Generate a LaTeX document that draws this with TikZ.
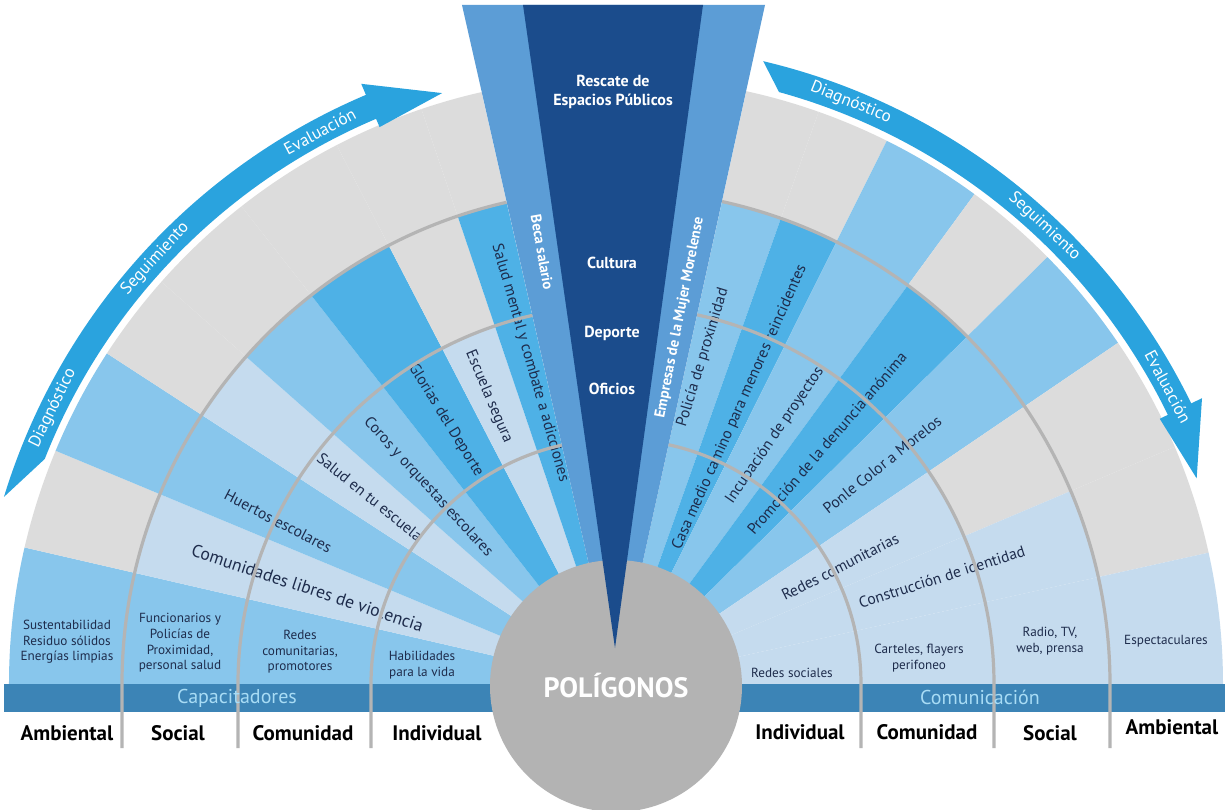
\documentclass[tikz,border=0pt]{standalone}
\usepackage{fontspec}
\setmainfont{PT Sans}

\definecolor{fangray}{HTML}{DCDCDC}
\definecolor{fanpale}{HTML}{C5DBEE}
\definecolor{fanlight}{HTML}{88C6EC}
\definecolor{fanmid}{HTML}{4EB1E6}
\definecolor{fansteel}{HTML}{5C9DD6}
\definecolor{fandark}{HTML}{1B4C8C}
\definecolor{bandblue}{HTML}{3C84B6}
\definecolor{arrowblue}{HTML}{2AA3DE}
\definecolor{ringgray}{HTML}{B4B4B4}
\definecolor{circlegray}{HTML}{B3B3B3}
\definecolor{inktext}{HTML}{1E2C4C}
\definecolor{bandlabel}{HTML}{A8DCF5}

\newcommand{\fansector}[6]{%
  \fill[#3] (0,0) -- (#1:245) arc[start angle=#1, end angle=#2, radius=245] -- cycle;
  \fill[#4] (#1:245) arc[start angle=#1, end angle=#2, radius=245] -- (#2:378) arc[start angle=#2, end angle=#1, radius=378] -- cycle;
  \fill[#5] (#1:378) arc[start angle=#1, end angle=#2, radius=378] -- (#2:494) arc[start angle=#2, end angle=#1, radius=494] -- cycle;
  \fill[#6] (#1:494) arc[start angle=#1, end angle=#2, radius=494] -- (#2:607) arc[start angle=#2, end angle=#1, radius=607] -- cycle;
}

\begin{document}
\begin{tikzpicture}[x=0.5pt, y=0.5pt,
    fantext/.style={text=inktext, font=\fontsize{7.8}{9}\selectfont},
    celltext/.style={text=inktext, font=\fontsize{6.6}{7.8}\selectfont, align=center},
    striptext/.style={text=white, font=\bfseries\fontsize{7.4}{9}\selectfont},
    wedgetext/.style={text=white, font=\bfseries\fontsize{8}{9.5}\selectfont, align=center},
    cycletext/.style={text=white, font=\fontsize{8.5}{10}\selectfont},
    bandtext/.style={text=bandlabel, font=\fontsize{10}{12}\selectfont},
    levellabel/.style={text=black, font=\bfseries\fontsize{10.5}{12}\selectfont},
    ringline/.style={draw=ringgray, line width=1.6pt}]
		\useasboundingbox (-616,-125) rectangle (609,684);
		\fill[white] (-616,-125) rectangle (609,684);

		\fansector{167}{180}{fanlight}{fanlight}{fanlight}{fanlight}
		\fansector{157.4}{167}{fanpale}{fanpale}{fanpale}{fangray}
		\fansector{147}{157.4}{fanlight}{fanlight}{fanlight}{fanlight}
		\fansector{138.5}{147}{fanpale}{fanpale}{fanpale}{fangray}
		\fansector{128.1}{138.5}{fanlight}{fanlight}{fanlight}{fangray}
		\fansector{117.4}{128.1}{fanmid}{fanmid}{fanmid}{fangray}
		\fansector{108.7}{117.4}{fanpale}{fanpale}{fangray}{fangray}
		\fansector{102.8}{108.7}{fanmid}{fanmid}{fanmid}{fangray}
		\fansector{70.5}{77.6}{fanlight}{fanlight}{fanlight}{fangray}
		\fansector{63.5}{70.5}{fanmid}{fanmid}{fanmid}{fangray}
		\fansector{53.8}{63.5}{fanlight}{fanlight}{fanlight}{fanlight}
		\fansector{44.7}{53.8}{fanmid}{fanmid}{fanmid}{fangray}
		\fansector{34.2}{44.7}{fanlight}{fanlight}{fanlight}{fanlight}
		\fansector{23}{34.2}{fanpale}{fanpale}{fangray}{fangray}
		\fansector{12.5}{23}{fanpale}{fanpale}{fanpale}{fangray}
		\fansector{0}{12.5}{fanpale}{fanpale}{fanpale}{fanpale}

		\fill[fansteel] (0,0) -- (-154,679) -- (149,679) -- cycle;
		\fill[bandblue] (-612,-28) rectangle (609,0);

		\node[fantext, rotate=-27.5] (huertos) at (154.3:375) {Huertos escolares};
		\node[fantext, rotate=-18.3, font=\fontsize{8.8}{10}\selectfont] (comunidades) at (162.7:323) {Comunidades libres de violencia};
		\node[fantext, rotate=-39] (saludescuela) at (142.8:309) {Salud en tu escuela};
		\node[fantext, rotate=-47.5] (coros) at (133.7:272) {Coros y orquestas escolares};
		\node[fantext, rotate=-58.4] (glorias) at (122.8:314) {Glorias del Deporte};
		\node[fantext, rotate=-67] (escuela) at (113.9:314) {Escuela segura};
		\node[fantext, rotate=-74] (saludmental) at (105:332) {Salud mental y combate a adicciones};
		\node[fantext, rotate=73] (policia) at (75.1:338) {Policía de proximidad};
		\node[fantext, rotate=66] (casa) at (65.9:303) {Casa medio camino para menores reincidentes};
		\node[fantext, rotate=55.5] (incubacion) at (57.4:295) {Incubación de proyectos};
		\node[fantext, rotate=49.2] (promocion) at (48.8:320) {Promoción de la denuncia anónima};
		\node[fantext, rotate=38.5] (ponle) at (39.5:345) {Ponle Color a Morelos};
		\node[fantext, rotate=27] (redescom) at (27.6:253) {Redes comunitarias};
		\node[fantext, rotate=17.7] (construccion) at (18.2:343) {Construcción de identidad};

		\node[celltext] (sustentabilidad) at (-549,42) {Sustentabilidad\\Residuo sólidos\\Energías limpias};
		\node[celltext] (funcionarios) at (-436,41) {Funcionarios y\\Policías de\\Proximidad,\\personal salud};
		\node[celltext] (redesprom) at (-316,32) {Redes\\comunitarias,\\promotores};
		\node[celltext] (habilidades) at (-194,19) {Habilidades\\para la vida};
		\node[celltext] (redessoc) at (176,11) {Redes sociales};
		\node[celltext] (carteles) at (303,26) {Carteles, flayers\\perifoneo};
		\node[celltext] (radio) at (434,43) {Radio, TV,\\web, prensa};
		\node[celltext] (espect) at (550,43) {Espectaculares};

		\draw[ringline] (102.8:245) arc[start angle=102.8, end angle=180, radius=245] -- (-245,-64);
		\draw[ringline] (102.8:378) arc[start angle=102.8, end angle=180, radius=378] -- (-378,-64);
		\draw[ringline] (102.8:494) arc[start angle=102.8, end angle=180, radius=494] -- (-494,-64);
		\draw[ringline] (77.6:245) arc[start angle=77.6, end angle=0, radius=245] -- (245,-64);
		\draw[ringline] (77.6:378) arc[start angle=77.6, end angle=0, radius=378] -- (378,-64);
		\draw[ringline] (77.6:494) arc[start angle=77.6, end angle=0, radius=494] -- (494,-64);

		\node[bandtext] (capacitadores) at (-379,-14) {Capacitadores};
		\node[bandtext] (comunicacion) at (364,-13) {Comunicación};

		\node[circle, fill=circlegray, minimum size=126pt, inner sep=0pt, text=white, font=\bfseries\fontsize{14}{16}\selectfont] (poligonos) at (0,-2) {POLÍGONOS};
		\fill[fandark] (-1,36) -- (-93,679) -- (87,679) -- cycle;

		\node[wedgetext] (rescate) at (-3,592) {Rescate de\\Espacios Públicos};
		\node[wedgetext] (cultura) at (-4,421) {Cultura};
		\node[wedgetext] (deporte) at (-4,351) {Deporte};
		\node[wedgetext] (oficios) at (-4,295) {Oficios};
		\node[striptext, rotate=-80] (beca) at (99.7:438) {Beca salario};
		\node[striptext, rotate=79] (empresas) at (80.1:372) {Empresas de la Mujer Morelense};

		\node[levellabel] (ambientalizq) at (-549,-49) {Ambiental};
		\node[levellabel] (socializq) at (-438,-49) {Social};
		\node[levellabel] (comunidadizq) at (-313,-49) {Comunidad};
		\node[levellabel] (individualizq) at (-179,-49) {Individual};
		\node[levellabel] (individualder) at (184,-48) {Individual};
		\node[levellabel] (comunidadder) at (311,-48) {Comunidad};
		\node[levellabel] (socialder) at (434,-49) {Social};
		\node[levellabel] (ambientalder) at (556,-43) {Ambiental};

		\fill[arrowblue] (163:640) arc[start angle=163, end angle=113, radius=640] -- (113:652) -- (106.4:616) -- (113:605) -- (113:614) arc[start angle=113, end angle=158.5, radius=614] -- cycle;
		\fill[arrowblue] (76.7:640) arc[start angle=76.7, end angle=26, radius=640] -- (26:652) -- (19.5:616) -- (26:605) -- (26:614) arc[start angle=26, end angle=74.6, radius=614] -- cycle;

		\node[cycletext, rotate=63.9] (diagizq) at (153.9:627) {Diagnóstico};
		\node[cycletext, rotate=47.3] (segizq) at (137.3:627) {Seguimiento};
		\node[cycletext, rotate=28.2] (evalizq) at (118.2:627) {Evaluación};
		\node[cycletext, rotate=-22] (diagder) at (68:627) {Diagnóstico};
		\node[cycletext, rotate=-43.1] (segder) at (46.9:627) {Seguimiento};
		\node[cycletext, rotate=-61.7] (evalder) at (28.3:627) {Evaluación};
		\end{tikzpicture}
\end{document}
